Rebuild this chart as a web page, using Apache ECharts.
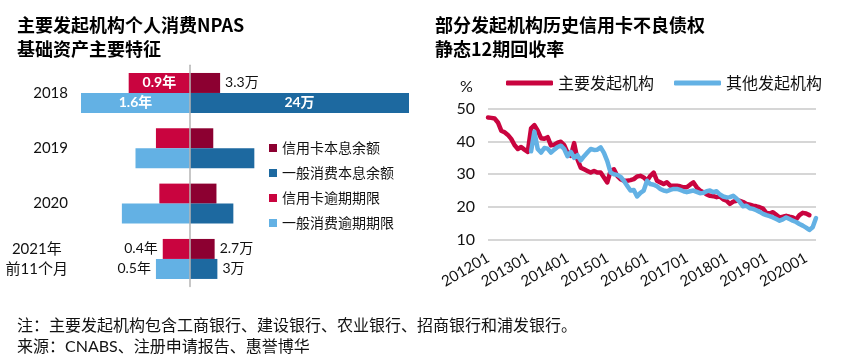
<!DOCTYPE html>
<html><head><meta charset="utf-8">
<script src="https://cdn.jsdelivr.net/npm/echarts@6/dist/echarts.min.js"></script>
<style>html,body{margin:0;padding:0;background:#fff}#c{width:844px;height:362px}</style>
</head><body><div id="c"></div>
<script>
// ---------- Left chart data ----------
const years = ['2018', '2019', '2020', '2021年\n前11个月'];
const cardBalance = [3.3, 2.55, 2.9, 2.7];      // 信用卡本息余额 (万)
const consBalance = [24, 7.05, 4.75, 3];        // 一般消费本息余额 (万)
const cardTerm = [0.9, 0.5, 0.45, 0.4];         // 信用卡逾期期限 (年)
const consTerm = [1.6, 0.8, 1.0, 0.5];          // 一般消费逾期期限 (年)
const cardBalanceLabels = ['3.3万', '', '', '2.7万'];
const consBalanceLabels = ['24万', '', '', '3万'];
const cardTermLabels = ['0.9年', '', '', '0.4年'];
const consTermLabels = ['1.6年', '', '', '0.5年'];

// ---------- Right chart data ----------
const months = [];
for (let y = 2012; y <= 2020; y++) {
  for (let m = 1; m <= 12; m++) {
    if (y === 2020 && m > 4) break;
    months.push(String(y) + (m < 10 ? '0' + m : m));
  }
}
const mainIssuers = [
  47.3, 47.2, 47.0, 45.8, 43.3, 42.8, 42.0, 40.8, 38.9, 37.7, 38.3, 37.5, 36.8,
  44.0, 45.0, 43.3, 41.0, 40.8, 41.3, 38.8, 39.0, 39.6, 39.9, 38.9, 36.6,
  35.6, 39.5, 34.5, 32.0, 31.5, 31.0, 30.5, 31.0, 30.5, 30.5, 29.0, 27.5,
  31.0, 31.5, 29.5, 28.5, 28.0, 28.0, 28.2, 28.5, 29.3, 29.5, 29.0, 28.0,
  29.5, 30.5, 28.0, 27.5, 27.0, 27.5, 26.5, 26.5, 26.5, 26.3, 26.0, 26.0,
  26.8, 27.5, 26.0, 25.0, 24.5, 23.8, 23.4, 23.3, 23.0, 23.2, 22.3, 21.9,
  20.9, 21.6, 21.9, 21.9, 21.5, 20.9, 20.7, 20.4, 20.2, 19.9, 19.5, 18.2,
  18.0, 18.4, 17.6, 16.8, 17.0, 17.3, 17.0, 16.8, 16.2, 17.5, 18.2, 18.0, 17.5
];
const otherIssuers = [
  null, null, null, null, null, null, null, null, null, null, null, null, null,
  37.0, 43.0, 37.7, 36.6, 38.0, 37.8, 36.6, 37.5, 38.3, 38.7, 37.7, 35.5,
  36.8, 35.0, 35.8, 34.2, 35.5, 36.6, 37.7, 37.4, 37.5, 38.2, 36.5, 34.0,
  30.5, 30.0, 29.8, 29.2, 28.0, 26.5, 25.0, 25.2, 23.2, 24.3, 25.0, 28.0,
  27.0, 26.8, 26.3, 25.5, 25.0, 24.8, 25.2, 25.5, 25.5, 25.2, 24.8, 24.5,
  24.8, 25.0, 24.6, 24.2, 24.3, 24.8, 25.0, 24.5, 24.8, 23.8, 23.2, 22.9,
  23.0, 23.4, 22.6, 21.5, 20.2, 20.4, 19.6, 19.4, 19.0, 18.5, 17.9, 17.5,
  17.2, 16.8, 16.3, 15.8, 16.2, 16.8, 16.3, 15.8, 15.4, 14.8, 14.3, 13.7, 13.0, 13.8, 16.6
];
const yTicks = [10, 20, 30, 40, 50];

// ---------- Styles ----------
const FONT = 'Lato, "Noto Sans CJK SC", sans-serif';
const CJK = '"Noto Sans CJK SC", Lato, sans-serif';
const C_DARKRED = '#8C0031';
const C_DARKBLUE = '#1D69A0';
const C_RED = '#C9043F';
const C_LIGHTBLUE = '#63B1E4';

function barData(values, labels, insideIdx, outsidePos) {
  return values.map((v, i) => {
    const txt = labels[i];
    if (!txt) return { value: v, label: { show: false } };
    const inside = insideIdx.indexOf(i) >= 0;
    return {
      value: v,
      label: inside
        ? { show: true, position: 'inside', formatter: txt, color: '#fff', fontWeight: 'bold', fontSize: 14, fontFamily: FONT }
        : { show: true, position: outsidePos, distance: 5, formatter: txt, color: '#111', fontSize: 14, fontFamily: FONT }
    };
  });
}

const chart = echarts.init(document.getElementById('c'), null, { renderer: 'canvas' });
chart.setOption({
  animation: false,
  backgroundColor: '#fff',
  textStyle: { fontFamily: FONT },
  title: [
    { text: '主要发起机构个人消费NPAS\n基础资产主要特征', left: 12, top: 8,
      textStyle: { fontFamily: CJK, fontSize: 18, fontWeight: 'bold', color: '#000', lineHeight: 24 } },
    { text: '部分发起机构历史信用卡不良债权\n静态12期回收率', left: 430, top: 8,
      textStyle: { fontFamily: CJK, fontSize: 18, fontWeight: 'bold', color: '#000', lineHeight: 24 } },
    { text: '注：主要发起机构包含工商银行、建设银行、农业银行、招商银行和浦发银行。\n来源：CNABS、注册申请报告、惠誉博华', left: 12, top: 310,
      textStyle: { fontFamily: FONT, fontSize: 16, fontWeight: 'normal', color: '#111', lineHeight: 21 } },
    { text: '%', left: 455, top: 74,
      textStyle: { fontFamily: FONT, fontSize: 16, fontWeight: 'normal', color: '#111' } }
  ],
  legend: [
    { orient: 'vertical', left: 264, top: 136, itemWidth: 8, itemHeight: 8, itemGap: 11, icon: 'rect',
      data: ['信用卡本息余额', '一般消费本息余额', '信用卡逾期期限', '一般消费逾期期限'],
      textStyle: { fontFamily: CJK, fontSize: 14, color: '#111' } },
    { orient: 'horizontal', left: 501, top: 70, itemWidth: 47, itemHeight: 5, itemGap: 20, icon: 'roundRect',
      data: ['主要发起机构', '其他发起机构'],
      textStyle: { fontFamily: CJK, fontSize: 16, color: '#111' } }
  ],
  grid: [
    { left: 81, top: 65.3, width: 109, height: 221.3, outerBoundsMode: 'none' },
    { left: 190, top: 65.3, width: 219, height: 221.3, outerBoundsMode: 'none' },
    { left: 488, top: 108.7, width: 328, height: 131, outerBoundsMode: 'none' }
  ],
  xAxis: [
    { gridIndex: 0, type: 'value', min: 0, max: 1.6, inverse: true, show: false },
    { gridIndex: 1, type: 'value', min: 0, max: 24, show: false },
    { gridIndex: 2, type: 'category', data: months, boundaryGap: false,
      axisLine: { show: false }, axisTick: { show: false }, splitLine: { show: false },
      axisLabel: { interval: 11, rotate: 30, fontSize: 15, color: '#111', fontFamily: FONT, margin: 17 } }
  ],
  yAxis: [
    { gridIndex: 0, type: 'category', data: years, inverse: true,
      axisLine: { show: false, onZero: false }, axisTick: { show: false },
      axisLabel: { margin: 13, fontSize: 15, color: '#111', fontFamily: FONT, lineHeight: 20,
        formatter: v => v.split('\n').map(s => '{c|' + s + '}').join('\n'),
        rich: { c: { align: 'center', fontSize: 15, fontFamily: FONT, color: '#111', lineHeight: 20 } } } },
    { gridIndex: 1, type: 'category', data: years, inverse: true, z: 5,
      axisLine: { show: true, lineStyle: { color: '#b5b5b5', width: 1.5 } }, axisTick: { show: false },
      axisLabel: { show: false } },
    { gridIndex: 2, type: 'value', min: yTicks[0], max: yTicks[yTicks.length - 1], interval: 10,
      axisLine: { show: false }, axisTick: { show: false },
      splitLine: { show: true, lineStyle: { color: '#c8c8c8', width: 1.5 } },
      axisLabel: { fontSize: 16, color: '#111', fontFamily: FONT, margin: 13 } }
  ],
  series: [
    { name: '信用卡本息余额', type: 'bar', xAxisIndex: 1, yAxisIndex: 1, barWidth: 20, barGap: '0%',
      itemStyle: { color: C_DARKRED }, data: barData(cardBalance, cardBalanceLabels, [], 'right') },
    { name: '一般消费本息余额', type: 'bar', xAxisIndex: 1, yAxisIndex: 1, barWidth: 20, barGap: '0%',
      itemStyle: { color: C_DARKBLUE }, data: barData(consBalance, consBalanceLabels, [0], 'right') },
    { name: '信用卡逾期期限', type: 'bar', xAxisIndex: 0, yAxisIndex: 0, barWidth: 20, barGap: '0%',
      itemStyle: { color: C_RED }, data: barData(cardTerm, cardTermLabels, [0], 'left') },
    { name: '一般消费逾期期限', type: 'bar', xAxisIndex: 0, yAxisIndex: 0, barWidth: 20, barGap: '0%',
      itemStyle: { color: C_LIGHTBLUE }, data: barData(consTerm, consTermLabels, [0], 'left') },
    { name: '主要发起机构', type: 'line', xAxisIndex: 2, yAxisIndex: 2, data: mainIssuers,
      showSymbol: false, symbol: 'none', itemStyle: { color: C_RED },
      lineStyle: { color: C_RED, width: 4.5, cap: 'round', join: 'round' } },
    { name: '其他发起机构', type: 'line', xAxisIndex: 2, yAxisIndex: 2, data: otherIssuers,
      showSymbol: false, symbol: 'none', itemStyle: { color: C_LIGHTBLUE },
      lineStyle: { color: C_LIGHTBLUE, width: 4.5, cap: 'round', join: 'round' } }
  ]
});
</script>
</body></html>
